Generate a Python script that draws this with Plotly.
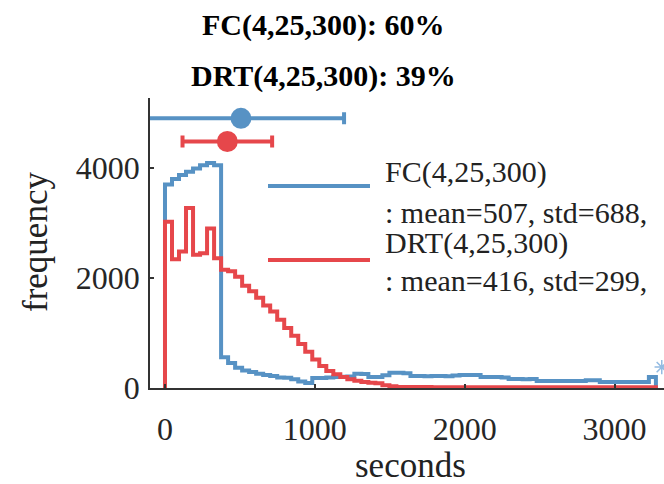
import numpy as np
import plotly.graph_objects as go

# ---------------- data ----------------
bin_start = 0.0
bin_width = 46.8          # seconds per histogram bin

fc_counts = [3700, 3800, 3870, 3930, 3990, 4050, 4090, 4050,
             560, 455, 370, 320, 290, 260, 236, 220, 190, 185, 160, 120, 90,
             180, 180, 190, 200, 205, 210, 260, 255,
             200, 200, 230, 278, 278, 270, 220,
             218, 215, 220, 218, 212,
             225, 236, 236, 236, 200, 200, 200, 190,
             164, 164, 160, 164,
             127, 127, 125, 127, 127, 125, 127,
             140, 140,
             109, 109, 108, 109, 109, 109, 109,
             200]

drt_counts = [3020, 2340, 2480, 3270, 2420, 2450, 2900, 2360,
              2150, 2120, 2020, 1860, 1760, 1640, 1500, 1390, 1240, 1090,
              950, 800, 660, 520, 400, 310, 250, 200, 160, 130, 110, 95, 85,
              50, 30,
              20, 18, 17, 16, 16, 15, 15, 15, 15, 15, 15, 15, 15, 15, 15, 15,
              15, 15, 15, 15, 15, 15, 15, 15, 15, 15, 15, 15, 15, 15, 15, 15,
              15, 15, 15, 15, 15]

fc_mean, fc_std = 507, 688
drt_mean, drt_std = 416, 299

outlier_x = [3315]
outlier_y = [380]

title_lines = ["FC(4,25,300): 60%", "DRT(4,25,300): 39%"]
legend_lines = [["FC(4,25,300)", ": mean=507, std=688,"],
                ["DRT(4,25,300)", ": mean=416, std=299,"]]

x_ticks = [0, 1000, 2000, 3000]
y_ticks = [0, 2000, 4000]

# ---------------- styling / layout ----------------
BLUE = "#5792c4"
RED = "#e6474b"
FONT = "Liberation Serif, Times New Roman, serif"
W, H = 664, 484
ML, MR, MT, MB = 150, 0, 98, 96
PW, PH = W - ML - MR, H - MT - MB
FC_LEVEL, DRT_LEVEL = 4900, 4480   # vertical placement of the mean/std bars


def px(x):
    return (x - ML) / PW


def py(y):
    return 1 - (y - MT) / PH


def step_xy(counts):
    n = len(counts)
    edges = bin_start + bin_width * np.arange(n + 1)
    xs = [edges[0]] + list(edges[:n]) + [edges[n]]
    ys = [0] + list(counts) + [0]
    return xs, ys


fig = go.Figure()

for counts, col in [(fc_counts, BLUE), (drt_counts, RED)]:
    xs, ys = step_xy(counts)
    fig.add_trace(go.Scatter(x=xs, y=ys, mode="lines", line_shape="hv",
                             line=dict(color=col, width=4), showlegend=False,
                             hoverinfo="skip"))

fig.add_trace(go.Scatter(x=outlier_x, y=outlier_y, mode="markers",
                         marker=dict(symbol="asterisk-open", size=12,
                                     color="#93bbe2",
                                     line=dict(color="#93bbe2", width=1.5)),
                         showlegend=False))

for m, s, lvl, col in [(fc_mean, fc_std, FC_LEVEL, BLUE),
                       (drt_mean, drt_std, DRT_LEVEL, RED)]:
    fig.add_trace(go.Scatter(x=[m], y=[lvl], mode="markers",
                             marker=dict(size=21, color=col),
                             error_x=dict(type="data", array=[s], color=col,
                                          thickness=4, width=6),
                             showlegend=False))

annotations = []
# title
for txt, yy in zip(title_lines, [25, 76]):
    annotations.append(dict(text=f"<b>{txt}</b>", x=px(323), y=py(yy),
                            xref="paper", yref="paper", showarrow=False,
                            xanchor="center", yanchor="middle",
                            font=dict(family=FONT, size=30, color="black")))
# legend
shapes = []
for (l1, l2), col, ly, ty in [(legend_lines[0], BLUE, 186, (172, 212)),
                              (legend_lines[1], RED, 260, (243, 280))]:
    shapes.append(dict(type="line", xref="paper", yref="paper",
                       x0=px(268), x1=px(370), y0=py(ly), y1=py(ly),
                       line=dict(color=col, width=4)))
    for txt, yy in zip([l1, l2], ty):
        annotations.append(dict(text=txt, x=px(383), y=py(yy),
                                xref="paper", yref="paper", showarrow=False,
                                xanchor="left", yanchor="middle",
                                font=dict(family=FONT, size=30, color="#222")))
# axis titles
annotations.append(dict(text="seconds", x=px(410), y=py(465), xref="paper",
                        yref="paper", showarrow=False, xanchor="center",
                        yanchor="middle",
                        font=dict(family=FONT, size=35, color="#222")))
annotations.append(dict(text="frequency", x=px(35), y=py(242), xref="paper",
                        yref="paper", showarrow=False, xanchor="center",
                        yanchor="middle", textangle=-90,
                        font=dict(family=FONT, size=35, color="#222")))

axis_common = dict(showgrid=False, zeroline=False, showline=True,
                   linecolor="#333", linewidth=1.5, ticks="inside", ticklen=4,
                   tickcolor="#333", tickwidth=1.5, automargin=False,
                   tickfont=dict(family=FONT, size=32, color="#262626"))

fig.update_layout(
    width=W, height=H,
    margin=dict(l=ML, r=MR, t=MT, b=MB),
    paper_bgcolor="white", plot_bgcolor="white",
    xaxis=dict(range=[-100, 3330], tickvals=x_ticks, ticklabelstandoff=12,
               **axis_common),
    yaxis=dict(range=[0, 5270], tickvals=y_ticks, ticklabelstandoff=2,
               **axis_common),
    annotations=annotations, shapes=shapes,
)

fig.write_html("out.html", config={"displayModeBar": False},
               post_script="document.body.style.margin='0';"
                           "document.body.style.overflow='hidden';")
